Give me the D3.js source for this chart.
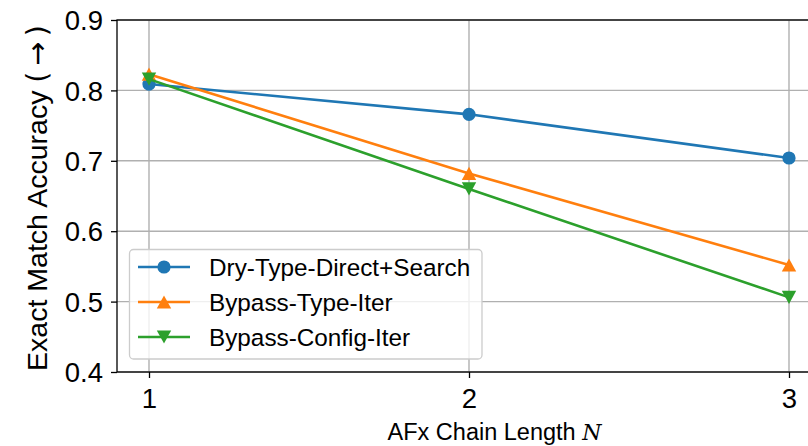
<!DOCTYPE html>
<html><head><meta charset="utf-8">
<script src="https://cdn.jsdelivr.net/npm/d3@7"></script>
<style>body{margin:0;background:#fff}svg{display:block}text{font-family:"Liberation Sans",Arial,sans-serif}</style>
</head><body>
<svg id="c" width="808" height="446"></svg>
<script>
const xValues = [1, 2, 3];
const xTicks = [1, 2, 3];
const yTicks = [0.4, 0.5, 0.6, 0.7, 0.8, 0.9];
const seriesNames = ["Dry-Type-Direct+Search", "Bypass-Type-Iter", "Bypass-Config-Iter"];
const dryTypeDirectSearch = [0.809, 0.766, 0.704];
const bypassTypeIter = [0.823, 0.682, 0.552];
const bypassConfigIter = [0.816, 0.660, 0.506];
const colors = ["#1f77b4", "#ff7f0e", "#2ca02c"];
const markers = ["circle", "up", "down"];
const seriesValues = [dryTypeDirectSearch, bypassTypeIter, bypassConfigIter];

const svg = d3.select("#c");
const L = 117, R = 821, T = 20, B = 372;
const x = d3.scaleLinear().domain([0.9, 3.1]).range([L, R]);
const y = d3.scaleLinear().domain([0.4, 0.9]).range([B, T]);

// grid
const g = svg.append("g");
g.selectAll(".gx").data(xTicks).join("line")
  .attr("x1", d => x(d)).attr("x2", d => x(d)).attr("y1", T).attr("y2", B)
  .attr("stroke", "#b0b0b0").attr("stroke-width", 1.4);
g.selectAll(".gy").data(yTicks).join("line")
  .attr("x1", L).attr("x2", R).attr("y1", d => y(d)).attr("y2", d => y(d))
  .attr("stroke", "#b0b0b0").attr("stroke-width", 1.4);

// axes
const xAxis = d3.axisBottom(x).tickValues(xTicks).tickFormat(d3.format("d")).tickSize(6).tickPadding(10);
const yAxis = d3.axisLeft(y).tickValues(yTicks).tickFormat(d3.format(".1f")).tickSize(6).tickPadding(8);
const gx = svg.append("g").attr("transform", `translate(0,${B})`).call(xAxis);
const gy = svg.append("g").attr("transform", `translate(${L},0)`).call(yAxis);
[gx, gy].forEach(a => {
  a.select(".domain").remove();
  a.selectAll(".tick line").attr("stroke", "#000").attr("stroke-width", 1.3);
  a.selectAll(".tick text").attr("fill", "#000").style("font-size", "27.5px");
});
gy.selectAll(".tick text").attr("dy", "0.35em");
// spines
svg.append("rect").attr("x", L).attr("y", T).attr("width", R - L).attr("height", B - T)
  .attr("fill", "none").attr("stroke", "#000").attr("stroke-width", 1.3);

// lines
const line = d3.line().x((d, i) => x(xValues[i])).y(d => y(d));
function marker(sel, type, cx, cy, color) {
  if (type === "circle") {
    sel.append("circle").attr("cx", cx).attr("cy", cy).attr("r", 6.6).attr("fill", color);
  } else {
    const w = 7.2, h = 6.6;
    const pts = type === "up"
      ? [[cx, cy - h], [cx - w, cy + h], [cx + w, cy + h]]
      : [[cx, cy + h], [cx - w, cy - h], [cx + w, cy - h]];
    sel.append("path").attr("d", "M" + pts.map(p => p.join(",")).join("L") + "Z").attr("fill", color);
  }
}
seriesValues.forEach((vals, s) => {
  const grp = svg.append("g");
  grp.append("path").datum(vals).attr("d", line).attr("fill", "none")
    .attr("stroke", colors[s]).attr("stroke-width", 2.6);
  vals.forEach((v, i) => marker(grp, markers[s], x(xValues[i]), y(v), colors[s]));
});

// legend
const lg = svg.append("g");
lg.append("rect").attr("x", 129.5).attr("y", 249.5).attr("width", 352.5).attr("height", 109.5)
  .attr("rx", 4).attr("fill", "#fff").attr("fill-opacity", 0.8).attr("stroke", "#cccccc").attr("stroke-width", 1.3);
seriesNames.forEach((name, s) => {
  const ly = 267 + s * 35;
  lg.append("line").attr("x1", 138).attr("x2", 190).attr("y1", ly).attr("y2", ly)
    .attr("stroke", colors[s]).attr("stroke-width", 2.6);
  marker(lg, markers[s], 164, ly, colors[s]);
  lg.append("text").attr("x", 209).attr("y", ly).attr("dy", "0.35em")
    .style("font-size", "24.3px").attr("fill", "#000").text(name);
});

// labels
svg.append("text").attr("x", 494.5).attr("y", 440).attr("text-anchor", "middle")
  .style("font-size", "23.5px").attr("fill", "#000")
  .html('AFx Chain Length <tspan font-family="DejaVu Serif" font-style="italic" font-size="22px">N</tspan>');
svg.append("text").attr("transform", `translate(47,198) rotate(-90)`)
  .attr("text-anchor", "middle").style("font-size", "28.5px").attr("fill", "#000")
  .html('Exact Match Accuracy <tspan font-family="DejaVu Sans">(\u2009\u2192\u2009)</tspan>');
</script>
</body></html>
